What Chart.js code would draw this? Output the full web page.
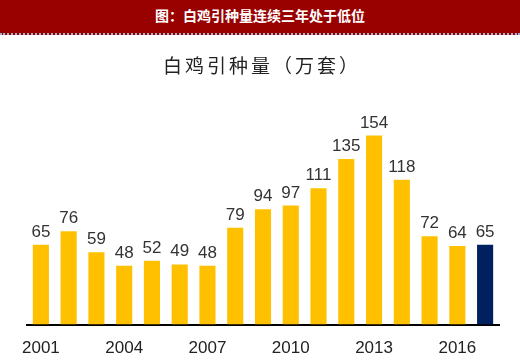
<!DOCTYPE html>
<html>
<head>
<meta charset="utf-8">
<script src="https://cdn.jsdelivr.net/npm/chart.js@4"></script>
<style>
  html, body { margin: 0; padding: 0; background: #fff; }
  #wrap { position: relative; width: 520px; height: 360px; }
  #head {
    position: absolute; left: 0; top: 0; width: 520px; height: 33px;
    background: #990000; color: #fff; text-align: center;
    font: bold 14px "Noto Sans CJK SC", sans-serif; line-height: 31px;
    border-bottom: 2px dotted #9fb3cf; z-index: 2;
  }
  #chart-1 { position: absolute; left: 0; top: 0; }
</style>
</head>
<body>
<div id="wrap">
  <div id="head">图：白鸡引种量连续三年处于低位</div>
  <canvas id="chart-1" width="520" height="360"></canvas>
</div>
<script>
// years and import volume (10k sets)
const years = ["2001", "2002", "2003", "2004", "2005", "2006", "2007", "2008", "2009",
  "2010", "2011", "2012", "2013", "2014", "2015", "2016", "2017"];
const volumes = [65, 76, 59, 48, 52, 49, 48, 79, 94, 97, 111, 135, 154, 118, 72, 64, 65];
const chartTitle = "白鸡引种量（万套）";

// last bar is highlighted in navy
const barColors = volumes.map((v, i) => (i === volumes.length - 1 ? "#002060" : "#FFC000"));

// draws the title and the number above each bar
const labelPlugin = {
  id: "labelPlugin",
  afterDraw(chart) {
    const ctx = chart.ctx;
    ctx.save();
    ctx.fillStyle = "#222";
    ctx.font = "19px 'Noto Sans CJK SC', sans-serif";
    ctx.letterSpacing = "3px";
    ctx.textAlign = "center";
    ctx.textBaseline = "middle";
    ctx.fillText(chartTitle, 262, 66);
    ctx.letterSpacing = "0px";

    ctx.fillStyle = "#333";
    ctx.font = "17px 'Liberation Sans', Arial, sans-serif";
    ctx.textBaseline = "alphabetic";
    const meta = chart.getDatasetMeta(0);
    meta.data.forEach((bar, i) => {
      ctx.fillText(volumes[i], bar.x, bar.y - 8);
    });
    ctx.restore();
  },
};

const ctx = document.getElementById("chart-1").getContext("2d");
const myChart = new Chart(ctx, {
  type: "bar",
  data: {
    labels: years,
    datasets: [
      {
        label: chartTitle,
        data: volumes,
        backgroundColor: barColors,
        barPercentage: 0.58,
        categoryPercentage: 1,
      },
    ],
  },
  options: {
    responsive: false,
    animation: false,
    layout: { padding: { top: 100, left: 27, right: 21, bottom: -13 } },
    plugins: {
      legend: { display: false },
      tooltip: { enabled: false },
    },
    scales: {
      x: {
        grid: { display: false, drawTicks: false, tickLength: 0 },
        border: { display: true, color: "#000", width: 2 },
        ticks: {
          autoSkip: false,
          maxRotation: 0,
          padding: 14,
          color: "#222",
          font: { size: 17, family: "'Liberation Sans', Arial, sans-serif" },
          callback: (value, index) => (index % 3 === 0 ? years[index] : ""),
        },
      },
      y: {
        display: false,
        min: 0,
        max: 183,
      },
    },
  },
  plugins: [labelPlugin],
});
</script>
</body>
</html>
